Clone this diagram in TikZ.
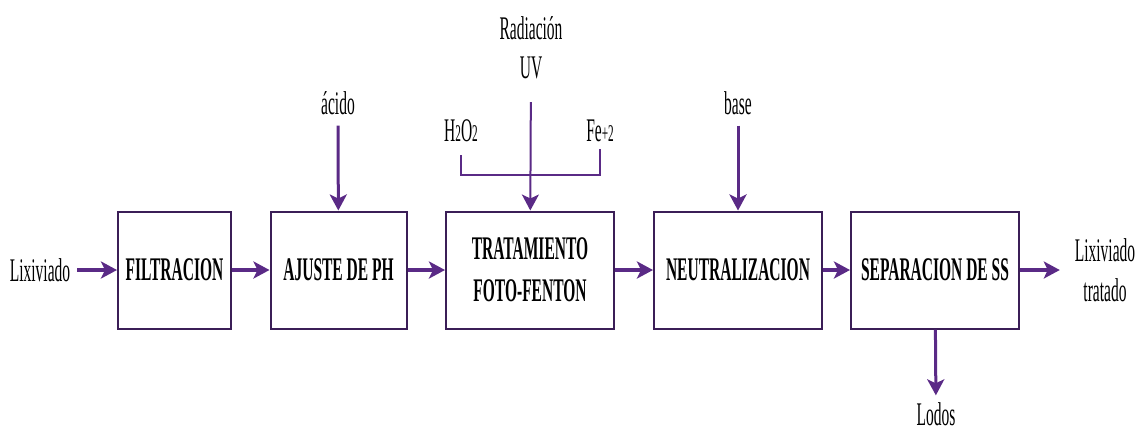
\documentclass[tikz,border=0pt]{standalone}
\usepackage{fontspec}
\setmainfont[FakeStretch=0.47]{Liberation Serif}
\usepackage{tikz}
\usetikzlibrary{arrows.meta,positioning}
\definecolor{pfPurple}{HTML}{5A2A86}
\definecolor{pfEdge}{HTML}{3B1E57}

\begin{document}
\begin{tikzpicture}[x=0.5pt, y=-0.5pt, font=\fontsize{16.5}{20}\selectfont,
  stage/.style={draw=pfEdge, line width=1pt, fill=white, align=center, font=\fontsize{16.5}{21}\selectfont\bfseries, minimum height=58.5pt},
  flow/.style={-{Stealth[length=8pt, width=8.5pt, inset=2pt]}, line width=2pt, pfPurple},
  feed/.style={-{Stealth[length=8pt, width=8.5pt, inset=2pt]}, line width=1.5pt, pfPurple}]
  \useasboundingbox (0,0) rectangle (1139,430);
  % process stages
  \node[stage, minimum width=56.5pt] (filt) at (174.5,270) {FILTRACION};
  \node[stage, minimum width=68pt] (ajuste) at (338.5,270) {AJUSTE DE PH};
  \node[stage, minimum width=84pt] (fenton) at (530,270) {TRATAMIENTO\\FOTO-FENTON};
  \node[stage, minimum width=84pt] (neutra) at (738,270) {NEUTRALIZACION};
  \node[stage, minimum width=84pt] (sep) at (935,270) {SEPARACION DE SS};
  % inputs and outputs
  \node (lix) at (40,270) {Lixiviado};
  \node[align=center] (trat) at (1105,270) {Lixiviado\\tratado};
  \node (lodos) at (936,414) {Lodos};
  \node (acido) at (338,103) {ácido};
  \node (base) at (738,103) {base};
  \node (rad) at (531,28) {Radiación};
  \node (uv) at (531,68) {UV};
  \node (h2o2) at (461,131) {H{\fontsize{12}{12}\selectfont 2}O{\fontsize{12}{12}\selectfont 2}};
  \node (fe) at (600,131) {Fe{\fontsize{12}{12}\selectfont +2}};
  \coordinate (join) at (530,175);
  % main line
  \draw[flow] (lix) -- (filt);
  \draw[flow] (filt) -- (ajuste);
  \draw[flow] (ajuste) -- (fenton);
  \draw[flow] (fenton) -- (neutra);
  \draw[flow] (neutra) -- (sep);
  \draw[flow, shorten >=4pt] (sep) -- (trat);
  \draw[feed] (sep) -- (lodos);
  % reagents
  \draw[feed, shorten <=2pt] (acido) -- (ajuste);
  \draw[feed, shorten <=2pt] (base) -- (neutra);
  \draw[feed, line width=1pt, shorten <=8pt] (uv) -- (fenton);
  \draw[pfPurple, line width=1pt, shorten <=3pt] (h2o2.south) |- (join) -| (fe.south);
\end{tikzpicture}
\end{document}
